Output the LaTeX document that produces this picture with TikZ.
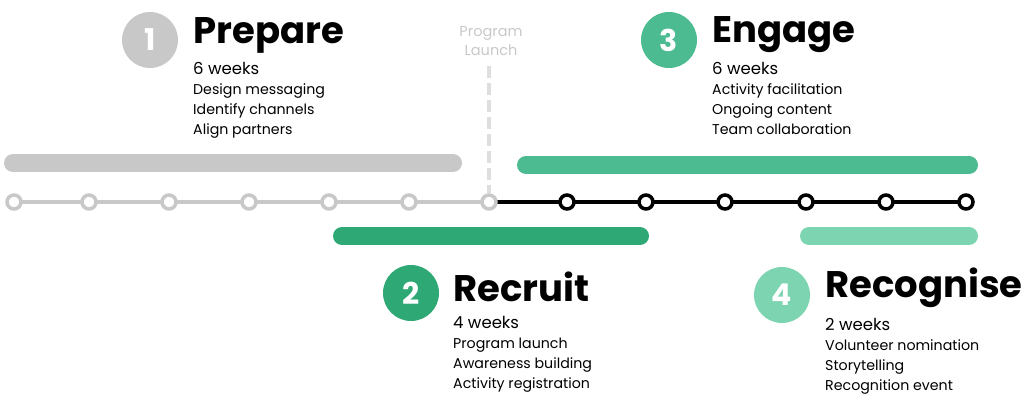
\documentclass[tikz,border=0pt]{standalone}
\usepackage{fontspec}
\setmainfont{Poppins}
\usetikzlibrary{positioning}
\definecolor{greyline}{HTML}{C8C8C8}
\definecolor{engage}{HTML}{4CBB91}
\definecolor{recruit}{HTML}{2EA874}
\definecolor{recog}{HTML}{7DD4B0}
\tikzset{
  week/.style={circle, draw=#1, fill=white, line width=3.5pt, minimum size=14pt, inner sep=0pt},
  phasebar/.style={line width=18pt, line cap=round, draw=#1},
  badge/.style={circle, fill=#1, minimum size=56pt, inner sep=0pt, text=white, font=\bfseries\fontsize{30}{30}\selectfont},
  phasetitle/.style={anchor=west, inner sep=0pt, font=\bfseries\fontsize{37}{37}\selectfont},
  info/.style={anchor=north west, inner sep=0pt, align=left, font=\fontsize{14.2}{20}\selectfont},
}
\begin{document}
\begin{tikzpicture}[x=1pt, y=-1pt]
  \useasboundingbox (0,0) rectangle (1024,415);
  % phase bars
  \draw[phasebar=greyline] (13,163) -- (453,163);
  \draw[phasebar=engage] (526,165) -- (969,165);
  \draw[phasebar=recruit] (342,236) -- (640,236);
  \draw[phasebar=recog] (809,236) -- (969,236);
  % launch marker
  \node[font=\fontsize{14.5}{19}\selectfont, text=greyline, align=center] (launch) at (491,41) {Program\\Launch};
  \coordinate (launchtop) at (489,66);
  % timeline
  \draw[greyline, line width=3.5pt] (14,202) -- (489,202);
  \draw[black, line width=3.5pt] (489,202) -- (966,202);
  \foreach \x [count=\i] in {14,89,169,249,329,409,489}
    \node[week=greyline] (g\i) at (\x,202) {};
  \foreach \x [count=\i] in {567,646,725,806,886,966}
    \node[week=black] (b\i) at (\x,202) {};
  \draw[greyline!60, line width=4pt, dash pattern=on 12pt off 5pt] (launchtop) -- (g7.north);
  % phases
  \node[badge=greyline] (n1) at (150,40) {1};
  \node[phasetitle, right=15pt of n1.east, yshift=5pt] (t1) {Prepare};
  \node[info] (i1) at (193,62) {{\fontsize{16.5}{25}\selectfont 6 weeks}\\Design messaging\\Identify channels\\Align partners};
  \node[badge=engage] (n3) at (669,40) {3};
  \node[phasetitle, right=15pt of n3.east, yshift=5pt] (t3) {Engage};
  \node[info] (i3) at (712,62) {{\fontsize{16.5}{25}\selectfont 6 weeks}\\Activity facilitation\\Ongoing content\\Team collaboration};
  \node[badge=recruit] (n2) at (411,293) {2};
  \node[phasetitle, right=14pt of n2.east, yshift=6pt] (t2) {Recruit};
  \node[info] (i2) at (453,316) {{\fontsize{16.5}{25}\selectfont 4 weeks}\\Program launch\\Awareness building\\Activity registration};
  \node[badge=recog] (n4) at (782,295) {4};
  \node[phasetitle, right=15pt of n4.east, yshift=7pt] (t4) {Recognise};
  \node[info] (i4) at (825,318) {{\fontsize{16.5}{25}\selectfont 2 weeks}\\Volunteer nomination\\Storytelling\\Recognition event};
\end{tikzpicture}
\end{document}
